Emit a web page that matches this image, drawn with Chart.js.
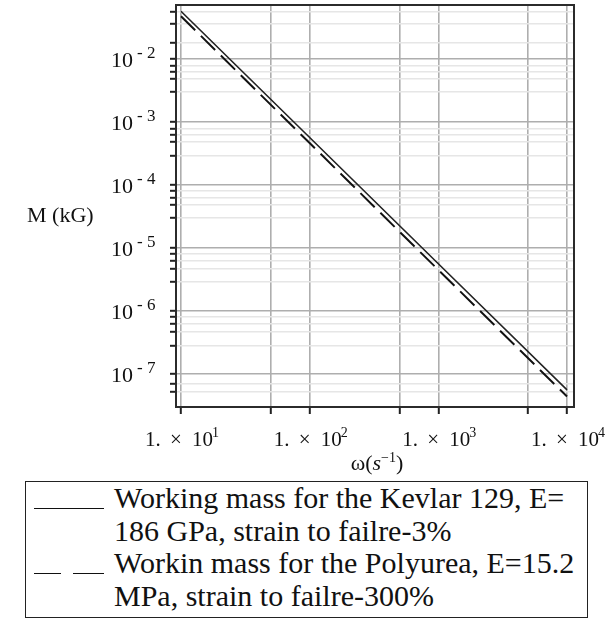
<!DOCTYPE html>
<html>
<head>
<meta charset="utf-8">
<script src="https://cdn.jsdelivr.net/npm/chart.js@4.4.0/dist/chart.umd.min.js"></script>
<style>
    body { margin: 0; background: #fff; font-family: "Liberation Serif", serif; color: #111; }
    #wrap { position: relative; width: 609px; height: 624px; }
    #chart-box { position: absolute; left: 0; top: 0; width: 609px; height: 460px; }
    #y-title { position: absolute; left: 27px; top: 202px; font-size: 22px; line-height: 26px; white-space: nowrap; }
    #x-title { position: absolute; left: 317px; top: 445px; width: 120px; text-align: center; font-size: 22px; line-height: 26px; }
    #x-title sup { font-size: 14px; }
    #legend { position: absolute; left: 25px; top: 481px; width: 563px; border: 1.5px solid #222; padding-bottom: 5px; box-sizing: border-box; font-size: 30px; line-height: 32.5px; }
    .row { display: flex; }
    .sample { width: 88px; flex: none; position: relative; height: 32.5px; }
    .seg { position: absolute; top: 0; height: 26px; border-bottom: 1.5px solid #111; }
    .text { flex: 1; padding-right: 4px; }
</style>
</head>
<body>
<div id="wrap">
    <div id="chart-box"><canvas id="chart" width="609" height="460"></canvas></div>
    <div id="y-title">M (kG)</div>
    <div id="x-title">ω(<i>s</i><sup>−1</sup>)</div>
    <div id="legend"></div>
</div>
<script>
// values
const omega = [10, 100, 1000, 10000];
const kevlarMass = [0.0575, 5.7e-4, 5.65e-6, 5.6e-8];
const polyureaMass = [0.048, 4.65e-4, 4.5e-6, 4.4e-8];
const seriesNames = [
    'Working mass for the Kevlar 129, E= 186 GPa, strain to failre-3%',
    'Workin mass for the Polyurea, E=15.2 MPa, strain to failre-300%'
];

// ticks
const xTicks = [10, 50, 100, 500, 1000, 5000, 10000];
const xLabelValues = [10, 100, 1000, 10000];
const xLabelExp = ['1', '2', '3', '4'];
const yMajorTicks = [1e-2, 1e-3, 1e-4, 1e-5, 1e-6, 1e-7];
const yLabelExp = ['2', '3', '4', '5', '6', '7'];
const yMinorTicks = [
    5.7e-2, 3.7e-2, 1.8e-2,
    7.8e-3, 6.4e-3, 4.9e-3, 3.0e-3,
    7.8e-4, 6.4e-4, 4.9e-4, 2.9e-4,
    8.1e-5, 6.3e-5, 4.8e-5, 3.0e-5,
    8.2e-6, 6.2e-6, 4.7e-6, 2.9e-6,
    8.2e-7, 6.2e-7, 4.7e-7, 2.8e-7,
    7.0e-8, 5.3e-8
];

const xRange = [9.15, 11330];
const yRange = [3.33e-8, 0.0724];

function pairs(xs, ys) {
    return xs.map((x, i) => ({ x: x, y: ys[i] }));
}

// draws the dark box round the plot
const framePlugin = {
    id: 'frame',
    afterDraw(chart) {
        const a = chart.chartArea;
        const ctx = chart.ctx;
        ctx.save();
        ctx.strokeStyle = '#2b2b2b';
        ctx.lineWidth = 2;
        ctx.strokeRect(a.left, a.top, a.right - a.left, a.bottom - a.top);
        ctx.restore();
    }
};

// tick labels with superscripts, placed with the scales
const serif = '"Liberation Serif", serif';
const tickTextPlugin = {
    id: 'tickText',
    afterDraw(chart) {
        const ctx = chart.ctx;
        const xs = chart.scales.x, ys = chart.scales.y;
        ctx.save();
        ctx.fillStyle = '#111';
        ctx.textBaseline = 'alphabetic';

        // y: "10" then a raised "- n"
        yMajorTicks.forEach((v, i) => {
            const py = ys.getPixelForValue(v);
            ctx.font = '22px ' + serif;
            ctx.textAlign = 'right';
            ctx.fillText('10', ys.right - 43, py + 7.5);
            ctx.font = '17px ' + serif;
            ctx.textAlign = 'left';
            ctx.fillText('-', ys.right - 39, py - 1);
            ctx.fillText(yLabelExp[i], ys.right - 29, py - 1);
        });

        // x: "1.  ×  10" then a raised exponent, wide gaps as in the picture
        xLabelValues.forEach((v, i) => {
            const px = xs.getPixelForValue(v);
            const s = px - 36;
            const base = xs.top + 39;
            ctx.textAlign = 'left';
            ctx.font = '21px ' + serif;
            ctx.fillText('1.', s, base);
            ctx.fillText('×', s + 25, base);
            ctx.fillText('10', s + 47, base);
            ctx.font = '14px ' + serif;
            ctx.fillText(xLabelExp[i], s + 67, base - 9);
        });
        ctx.restore();
    }
};

new Chart(document.getElementById('chart'), {
    type: 'line',
    data: {
        datasets: [{
            label: seriesNames[0],
            data: pairs(omega, kevlarMass),
            borderColor: '#222',
            borderWidth: 1.6,
            pointRadius: 0,
            tension: 0
        }, {
            label: seriesNames[1],
            data: pairs(omega, polyureaMass),
            borderColor: '#111',
            borderWidth: 2,
            borderDash: [20, 8],
            pointRadius: 0,
            tension: 0
        }]
    },
    options: {
        responsive: false,
        animation: false,
        devicePixelRatio: 1,
        layout: { padding: { left: 0, right: 35, top: 5, bottom: 0 } },
        plugins: { legend: { display: false }, tooltip: { enabled: false } },
        scales: {
            x: {
                type: 'logarithmic',
                min: xRange[0],
                max: xRange[1],
                afterBuildTicks: s => { s.ticks = xTicks.map(v => ({ value: v })); },
                afterFit: s => { s.height = 53; s.paddingLeft = 0; s.paddingRight = 0; },
                ticks: { autoSkip: false, maxRotation: 0, callback: () => '' },
                grid: { color: '#aeaeae', lineWidth: 1.6, tickLength: 7, tickColor: '#222', tickWidth: 2 },
                border: { display: false }
            },
            y: {
                type: 'logarithmic',
                min: yRange[0],
                max: yRange[1],
                afterBuildTicks: s => {
                    s.ticks = yMajorTicks.concat(yMinorTicks).sort((a, b) => a - b).map(v => ({ value: v }));
                },
                afterFit: s => { s.width = 176; s.paddingTop = 0; s.paddingBottom = 0; },
                ticks: { autoSkip: false, callback: () => '' },
                grid: {
                    color: c => (c.tick && yMajorTicks.includes(c.tick.value)) ? '#aeaeae' : '#e6e6e6',
                    lineWidth: 1.6,
                    tickLength: 6,
                    tickColor: '#222',
                    tickWidth: 2
                },
                border: { display: false }
            }
        }
    },
    plugins: [framePlugin, tickTextPlugin]
});

// legend as html text, so the labels can wrap onto two lines
const legend = document.getElementById('legend');
const samples = [
    [{ left: 8, width: 70 }],
    [{ left: 8, width: 27 }, { left: 47, width: 31 }]
];
seriesNames.forEach((name, i) => {
    const row = document.createElement('div');
    row.className = 'row';
    const sample = document.createElement('div');
    sample.className = 'sample';
    samples[i].forEach(sg => {
        const seg = document.createElement('div');
        seg.className = 'seg';
        seg.style.left = sg.left + 'px';
        seg.style.width = sg.width + 'px';
        sample.appendChild(seg);
    });
    const text = document.createElement('div');
    text.className = 'text';
    text.textContent = name;
    row.appendChild(sample);
    row.appendChild(text);
    legend.appendChild(row);
});
</script>
</body>
</html>
